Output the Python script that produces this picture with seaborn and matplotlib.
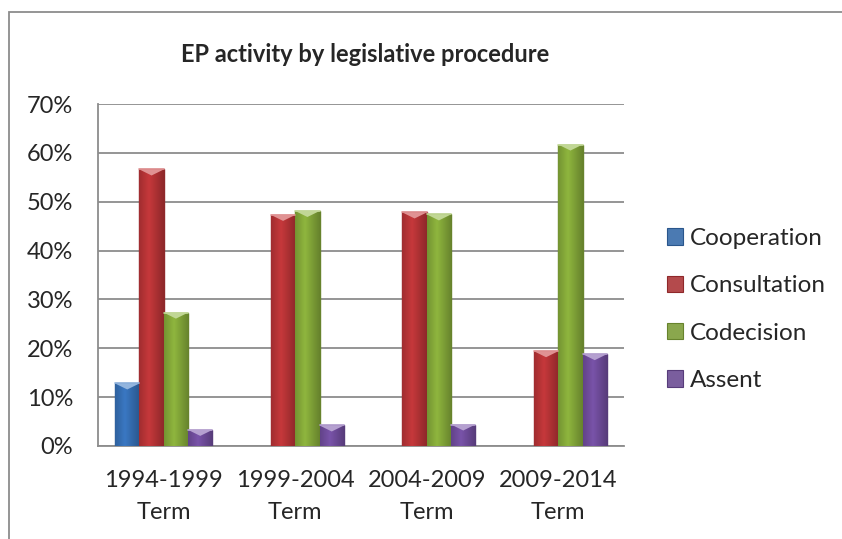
"""EP activity by legislative procedure, Excel-style grouped bar chart."""
import matplotlib
matplotlib.use('Agg')
import numpy as np
import pandas as pd
import matplotlib.pyplot as plt
import matplotlib.colors as mcolors
from matplotlib.patches import Polygon, Rectangle
from matplotlib.ticker import FuncFormatter, FixedLocator
import seaborn as sns

terms = ['1994-1999\nTerm', '1999-2004\nTerm', '2004-2009\nTerm', '2009-2014\nTerm']
procedures = ['Cooperation', 'Consultation', 'Codecision', 'Assent']
cooperation = [12.8, 0.0, 0.0, 0.0]
consultation = [56.6, 47.3, 47.8, 19.4]
codecision = [27.3, 48.1, 47.4, 61.7]
assent = [3.3, 4.2, 4.4, 18.8]
colors = ['#3a78c3', '#c6383b', '#8fb63e', '#7953a9']

sns.set_style('white')
plt.rcParams['font.family'] = ['Lato', 'DejaVu Sans']

df = pd.DataFrame({
    'term': np.repeat(terms, len(procedures)),
    'procedure': procedures * len(terms),
    'share': [v for row in zip(cooperation, consultation, codecision, assent) for v in row],
})

fig = plt.figure(figsize=(8.42, 5.39), dpi=100)
ax = fig.add_axes([98 / 842, 1 - 446 / 539, (624 - 98) / 842, (446 - 104) / 539])

sns.barplot(data=df, x='term', y='share', hue='procedure', hue_order=procedures,
            order=terms, palette=colors, width=0.74, gap=0, ax=ax,
            edgecolor='none', linewidth=0, legend=True, zorder=3)

ax.set_ylim(0, 70)
ax.set_xlim(-0.5, len(terms) - 0.5)
ax.yaxis.set_major_locator(FixedLocator(np.arange(0, 71, 10)))
ax.yaxis.set_major_formatter(FuncFormatter(lambda v, p: '{:.0f}%'.format(v)))
ax.grid(axis='y', color='#8c8c8c', linewidth=1.3, zorder=0)
ax.set_axisbelow(True)
ax.set_xlabel('')
ax.set_ylabel('')

for s in ['top', 'right']:
    ax.spines[s].set_visible(False)
for s in ['left', 'bottom']:
    ax.spines[s].set_color('#8c8c8c')
    ax.spines[s].set_linewidth(1.3)

# ticks at category boundaries on the x axis, labels centred on the groups
ax.set_xticks(np.arange(len(terms)))
ax.set_xticklabels(terms, fontsize=17, linespacing=1.65)
ax.set_xticks(np.arange(len(terms) + 1) - 0.5, minor=True)
ax.tick_params(axis='x', which='major', length=0, pad=17)
ax.tick_params(axis='x', which='minor', length=7, width=1.3, color='#8c8c8c', direction='out')
ax.tick_params(axis='y', length=7, width=1.3, color='#8c8c8c', direction='out', pad=11, labelsize=17)

# bevel look: darker body edge and lighter triangle on top of every bar
px_per_unit = ax.bbox.height / 70.0
for patch, col in zip(ax.patches, [c for c in colors for _ in terms]):
    h = patch.get_height()
    if h <= 0:
        continue
    x0, w = patch.get_x(), patch.get_width()
    base = mcolors.to_rgb(col)
    dark = tuple(c * 0.72 for c in base)
    light = tuple(min(1, c + (1 - c) * 0.45) for c in base)
    patch.set_edgecolor(dark)
    patch.set_linewidth(1.0)
    # horizontal shading across the bar
    grad = np.linspace(0, 1, 40)
    shade = 1 - 0.28 * np.abs(grad - 0.4) / 0.6
    img = np.array([[tuple(c * s for c in base) for s in shade]])
    im = ax.imshow(img, extent=(x0, x0 + w, 0, h), aspect='auto', zorder=3.5,
                   interpolation='bilinear')
    im.set_clip_path(patch)
    depth = min(6.0 / px_per_unit, h)
    tri = Polygon([(x0, h), (x0 + w, h), (x0 + w / 2, h - depth)], closed=True,
                  facecolor=light, edgecolor='none', zorder=4)
    ax.add_patch(tri)
    ax.plot([x0, x0 + w], [h, h], color=light, linewidth=1.2, zorder=4.5)

ax.set_ylim(0, 70)
ax.set_xlim(-0.5, len(terms) - 0.5)

handles, labels = ax.get_legend_handles_labels()
for hnd, col in zip(handles, colors):
    hnd.set_edgecolor(tuple(c * 0.72 for c in mcolors.to_rgb(col)))
    hnd.set_linewidth(0.8)
ax.legend(handles, labels, loc='center left', bbox_to_anchor=(667 / 842, 1 - 309.5 / 539),
          bbox_transform=fig.transFigure, frameon=False, fontsize=17.5, borderpad=0,
          borderaxespad=0, handlelength=0.66, handleheight=0.66, handletextpad=0.3,
          labelspacing=1.08)

fig.text(365 / 842, 1 - 55 / 539, 'EP activity by legislative procedure',
         ha='center', va='center', fontsize=17, fontweight='bold')

# chart area border (only top and left are visible in the crop)
fig.patches.append(Rectangle((8.5 / 842, -0.1), 2, 1 - 11.5 / 539 + 0.1,
                             transform=fig.transFigure, facecolor='none',
                             edgecolor='#8c8c8c', linewidth=1.3))

fig.savefig('out.png', dpi=100)
